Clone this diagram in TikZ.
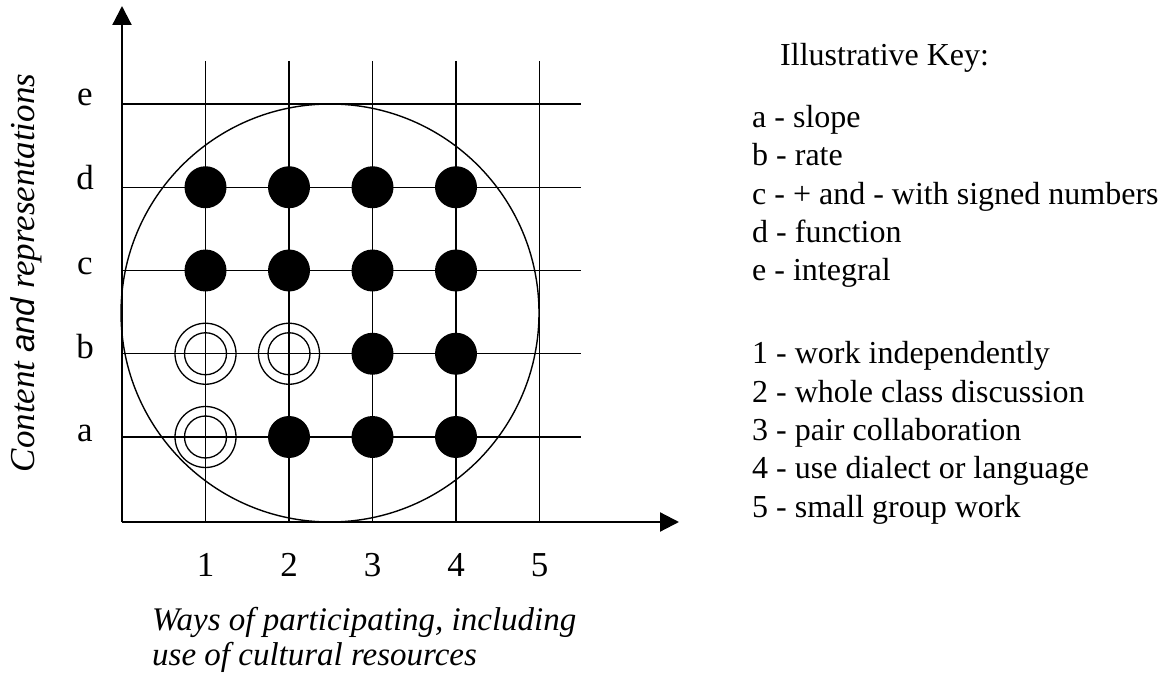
\documentclass[tikz,border=0pt]{standalone}
\usepackage{fontspec}
\setmainfont{Liberation Serif}
\newfontfamily\sansfam{Liberation Sans}
\usetikzlibrary{arrows.meta}
\begin{document}
\begin{tikzpicture}[x=1pt,y=-1pt,
  font=\fontsize{32}{38}\selectfont,
  gridline/.style={line width=1.4pt},
  axisline/.style={line width=2.2pt,-{Triangle[length=19pt,width=19pt]}},
  bigring/.style={circle,draw,line width=1.4pt,minimum size=418pt,inner sep=0pt},
  fulldot/.style={circle,fill=black,minimum size=42pt,inner sep=0pt},
  ringout/.style={circle,draw,line width=1.3pt,minimum size=61pt,inner sep=0pt},
  ringin/.style={circle,draw,line width=1.3pt,minimum size=42pt,inner sep=0pt},
  lbl/.style={anchor=base,inner sep=0pt,font=\fontsize{35}{40}\selectfont},
  keytext/.style={anchor=base west,inner sep=0pt},
  axtitle/.style={font=\fontsize{33}{38}\selectfont\itshape,anchor=base west,inner sep=0pt}]
\useasboundingbox (0,0) rectangle (1170,676);
\fill[white] (0,0) rectangle (1170,676);

% grid coordinates
\foreach \i in {1,...,5}{
  \pgfmathsetmacro{\gx}{205.5+83.5*(\i-1)}
  \coordinate (vt\i) at (\gx,61);
  \coordinate (vb\i) at (\gx,522);
}
\foreach \j/\n in {1/a,2/b,3/c,4/d,5/e}{
  \pgfmathsetmacro{\gy}{437-83.25*(\j-1)}
  \coordinate (hl\j) at (122,\gy);
  \coordinate (hr\j) at (581,\gy);
}
\foreach \i in {1,...,5}{
  \foreach \j in {1,...,5}{
    \pgfmathsetmacro{\gx}{205.5+83.5*(\i-1)}
    \pgfmathsetmacro{\gy}{437-83.25*(\j-1)}
    \coordinate (p\i\j) at (\gx,\gy);
  }
}

% grid lines
\foreach \i in {1,...,5}{\draw[gridline] (vt\i) -- (vb\i);}
\foreach \j in {1,...,5}{\draw[gridline] (hl\j) -- (hr\j);}

% axes
\coordinate (O) at (122,522);
\coordinate (ytop) at (122,6);
\coordinate (xend) at (679,522);
\draw[axisline] (O) -- (ytop);
\draw[axisline] (O) -- (xend);

% big circle
\node[bigring] (big) at (330,313) {};

% filled dots
\foreach \k in {21,31,41,32,42,13,23,33,43,14,24,34,44}{
  \node[fulldot] (dot\k) at (p\k) {};
}
% double rings
\foreach \k in {11,12,22}{
  \node[ringout] (ro\k) at (p\k) {};
  \node[ringin] (ri\k) at (p\k) {};
}

% row labels
\node[lbl] (la) at (85,441) {a};
\node[lbl] (lb) at (85,358) {b};
\node[lbl] (lc) at (85,275) {c};
\node[lbl] (ld) at (85,190) {d};
\node[lbl] (le) at (85,106) {e};

% column labels
\foreach \i in {1,...,5}{
  \pgfmathsetmacro{\gx}{205.5+83.5*(\i-1)}
  \node[lbl] (n\i) at (\gx,576) {\i};
}

% axis titles
\node[rotate=90,inner sep=0pt,font=\fontsize{35}{38}\selectfont\itshape] (ytitle) at (26,273)
  {Content {\sansfam\fontsize{33}{38}\selectfont\itshape and} representations};
\node[axtitle] (xt1) at (152,630) {Ways of participating, including};
\node[axtitle] (xt2) at (152,665) {use of cultural resources};

% key
\node[keytext] (kt) at (780,66) {Illustrative Key:};
\node[keytext] (k1) at (752,128) {a - slope};
\node[keytext] (k2) at (752,166) {b - rate};
\node[keytext] (k3) at (752,205) {c - + and - with signed numbers};
\node[keytext] (k4) at (752,243) {d - function};
\node[keytext] (k5) at (752,281) {e - integral};
\node[keytext] (k6) at (752,363) {1 - work independently};
\node[keytext] (k7) at (752,402) {2 - whole class discussion};
\node[keytext] (k8) at (752,440) {3 - pair collaboration};
\node[keytext] (k9) at (752,478) {4 - use dialect or language};
\node[keytext] (k10) at (752,517) {5 - small group work};
\end{tikzpicture}
\end{document}
